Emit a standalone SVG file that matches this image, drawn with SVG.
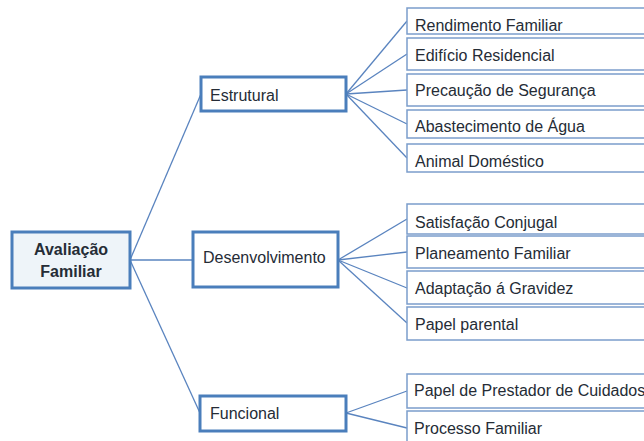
<svg xmlns="http://www.w3.org/2000/svg" width="644" height="441" viewBox="0 0 644 441">
  <style>
    .root { fill: #eef4f9; stroke: #4a7ebb; stroke-width: 3; }
    .mid { fill: #ffffff; stroke: #4a7ebb; stroke-width: 3; }
    .leaf { fill: #ffffff; stroke: #7b9dcb; stroke-width: 1.5; }
    .t { font-family: "Liberation Sans", Arial, sans-serif; font-size: 16px; fill: #252c36; }
    .tb { font-family: "Liberation Sans", Arial, sans-serif; font-size: 16px; font-weight: bold; fill: #252c36; text-anchor: middle; }
    .conn line { stroke: #5a84bf; stroke-width: 1.3; }
  </style>
  <rect width="644" height="441" fill="#ffffff"/>

  <g id="connectors" class="conn">
    <!-- root to categories -->
    <line x1="130" y1="260" x2="201" y2="94"/>
    <line x1="130" y1="260" x2="193" y2="260"/>
    <line x1="130" y1="260" x2="200" y2="413"/>
    <!-- Estrutural -->
    <line x1="346" y1="94" x2="407" y2="21"/>
    <line x1="346" y1="94" x2="407" y2="54"/>
    <line x1="346" y1="94" x2="407" y2="90"/>
    <line x1="346" y1="94" x2="407" y2="124"/>
    <line x1="346" y1="94" x2="407" y2="158"/>
    <!-- Desenvolvimento -->
    <line x1="338" y1="260" x2="407" y2="219"/>
    <line x1="338" y1="260" x2="407" y2="252"/>
    <line x1="338" y1="260" x2="407" y2="288"/>
    <line x1="338" y1="260" x2="407" y2="323"/>
    <!-- Funcional -->
    <line x1="346" y1="413" x2="407" y2="391"/>
    <line x1="346" y1="413" x2="407" y2="428"/>
  </g>

  <g id="avaliacao-familiar">
    <rect class="root" x="12" y="232" width="118" height="56"/>
    <text class="tb" x="71" y="255">Avaliação</text>
    <text class="tb" x="71" y="277">Familiar</text>
  </g>

  <g id="estrutural">
    <rect class="mid" x="201" y="77" width="145" height="34"/>
    <text class="t" x="210" y="101">Estrutural</text>
  </g>
  <g id="desenvolvimento">
    <rect class="mid" x="193" y="232" width="145" height="55"/>
    <text class="t" x="203" y="263">Desenvolvimento</text>
  </g>
  <g id="funcional">
    <rect class="mid" x="200" y="396" width="146" height="35"/>
    <text class="t" x="210" y="419">Funcional</text>
  </g>

  <g id="rendimento-familiar">
    <rect class="leaf" x="407" y="8" width="250" height="26"/>
    <text class="t" x="415" y="31">Rendimento Familiar</text>
  </g>
  <g id="edificio-residencial">
    <rect class="leaf" x="407" y="38" width="250" height="32"/>
    <text class="t" x="415" y="61">Edifício Residencial</text>
  </g>
  <g id="precaucao-seguranca">
    <rect class="leaf" x="407" y="74" width="250" height="32"/>
    <text class="t" x="415" y="96">Precaução de Segurança</text>
  </g>
  <g id="abastecimento-agua">
    <rect class="leaf" x="407" y="110" width="250" height="28"/>
    <text class="t" x="415" y="132">Abastecimento de Água</text>
  </g>
  <g id="animal-domestico">
    <rect class="leaf" x="407" y="144" width="250" height="28"/>
    <text class="t" x="415" y="167">Animal Doméstico</text>
  </g>

  <g id="satisfacao-conjugal">
    <rect class="leaf" x="407" y="204" width="250" height="30"/>
    <text class="t" x="415" y="228">Satisfação Conjugal</text>
  </g>
  <g id="planeamento-familiar">
    <rect class="leaf" x="407" y="236" width="250" height="32"/>
    <text class="t" x="415" y="259">Planeamento Familiar</text>
  </g>
  <g id="adaptacao-gravidez">
    <rect class="leaf" x="407" y="271" width="250" height="33"/>
    <text class="t" x="415" y="294">Adaptação á Gravidez</text>
  </g>
  <g id="papel-parental">
    <rect class="leaf" x="407" y="307" width="250" height="33"/>
    <text class="t" x="415" y="330">Papel parental</text>
  </g>

  <g id="papel-prestador-cuidados">
    <rect class="leaf" x="407" y="374" width="250" height="34"/>
    <text class="t" x="414" y="396">Papel de Prestador de Cuidados</text>
  </g>
  <g id="processo-familiar">
    <rect class="leaf" x="407" y="411" width="250" height="40"/>
    <text class="t" x="414" y="434">Processo Familiar</text>
  </g>
</svg>
